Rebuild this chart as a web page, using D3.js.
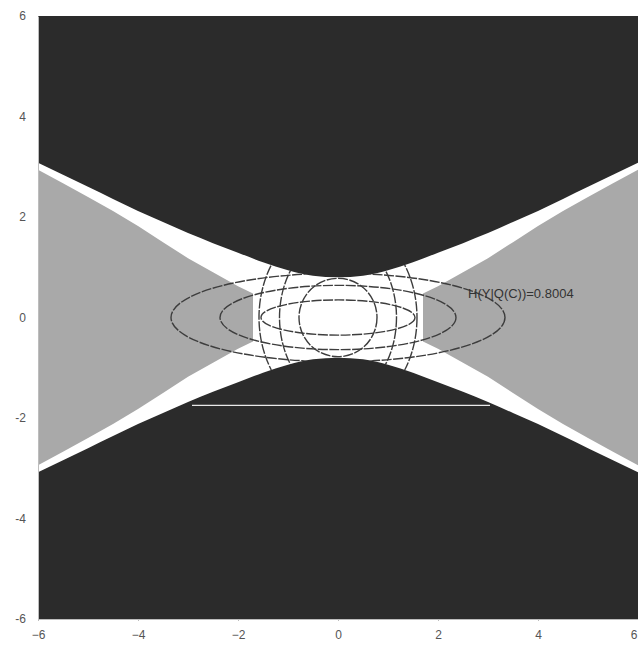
<!DOCTYPE html>
<html>
<head>
<meta charset="utf-8">
<script src="https://cdn.jsdelivr.net/npm/d3@7"></script>
<style>
body { margin: 0; background: #fff; }
svg { display: block; }
</style>
</head>
<body>
<div id="chart"></div>
<script>
// axis ticks
var xTicks = [-6, -4, -2, 0, 2, 4, 6];
var yTicks = [-6, -4, -2, 0, 2, 4, 6];

// edge of the dark (top / bottom) regions, |y| for x >= 0, mirrored
var darkEdgeX = [0, 0.5, 1, 1.5, 2, 2.5, 3, 3.5, 4, 4.5, 5, 5.5, 6];
var darkEdgeY = [0.8, 0.83, 0.94, 1.1, 1.29, 1.48, 1.68, 1.9, 2.12, 2.36, 2.6, 2.84, 3.08];

// edge of the grey (left / right) regions, |y| for |x| >= 1.7
var grayEdgeX = [1.7, 2, 2.5, 3, 3.5, 4, 4.5, 5, 5.5, 6];
var grayEdgeY = [0.48, 0.62, 0.9, 1.18, 1.5, 1.82, 2.12, 2.4, 2.67, 2.94];

// contour ellipses (centre 0,0)
var ellipseRx = [3.34, 2.36, 1.54, 1.58, 1.17, 0.78];
var ellipseRy = [0.88, 0.64, 0.35, 1.95, 1.6, 0.78];

// stray white scan line
var strayLineX = [-2.92, 3.04];
var strayLineY = -1.75;

var label = 'H(Y|Q(C))=0.8004';
var labelPos = [2.6, 0.39];

var cfg = {
    w: 638,
    h: 647,
    left: 38,
    right: 638,
    top: 16,
    bottom: 619,
    dark: '#2b2b2b',
    gray: '#a9a9a9',
    line: '#3d3d3d'
};

var svg = d3.select('#chart')
            .append('svg')
            .attr('width', cfg.w)
            .attr('height', cfg.h);

var x = d3.scaleLinear().domain([-6, 6]).range([cfg.left, cfg.right]);
var y = d3.scaleLinear().domain([-6, 6]).range([cfg.bottom, cfg.top]);

// mirrored edges
function mirror(xs, ys) {
    var pts = [];
    for (var i = xs.length - 1; i > 0; i--) pts.push([-xs[i], ys[i]]);
    for (var j = 0; j < xs.length; j++) pts.push([xs[j], ys[j]]);
    return pts;
}
var darkPts = mirror(darkEdgeX, darkEdgeY);
var grayRight = grayEdgeX.map(function(d, i) {return [d, grayEdgeY[i]];});
var grayLeft = grayEdgeX.map(function(d, i) {return [-d, grayEdgeY[i]];});

var band = d3.area()
             .x(function(d) {return x(d[0]);})
             .y0(function(d) {return y(-d[1]);})
             .y1(function(d) {return y(d[1]);})
             .curve(d3.curveMonotoneX);

var wedge = d3.area()
              .x(function(d) {return x(d[0]);})
              .y0(function(d) {return y(-d[1]);})
              .y1(function(d) {return y(d[1]);});

var defs = svg.append('defs');
defs.append('clipPath').attr('id', 'plotClip')
    .append('rect')
    .attr('x', cfg.left).attr('y', cfg.top)
    .attr('width', cfg.right - cfg.left).attr('height', cfg.bottom - cfg.top);
defs.append('clipPath').attr('id', 'bandClip')
    .append('path')
    .attr('d', band(darkPts));

var g = svg.append('g').attr('clip-path', 'url(#plotClip)');

//Dark background
g.append('rect')
 .attr('x', cfg.left).attr('y', cfg.top)
 .attr('width', cfg.right - cfg.left).attr('height', cfg.bottom - cfg.top)
 .style('fill', cfg.dark);

//White band
g.append('path')
 .attr('d', band(darkPts))
 .style('fill', '#fff');

//Grey wedges
g.selectAll('.wedge')
 .data([grayLeft, grayRight])
 .enter()
 .append('path')
 .attr('class', 'wedge')
 .attr('d', wedge)
 .style('fill', cfg.gray);

//Stray white line
g.append('line')
 .attr('x1', x(strayLineX[0])).attr('x2', x(strayLineX[1]))
 .attr('y1', y(strayLineY)).attr('y2', y(strayLineY))
 .style('stroke', '#e8e8e8')
 .style('stroke-width', '1.2px');

//Ellipses
g.append('g')
 .attr('clip-path', 'url(#bandClip)')
 .selectAll('ellipse')
 .data(ellipseRx)
 .enter()
 .append('ellipse')
 .attr('cx', x(0))
 .attr('cy', y(0))
 .attr('rx', function(d) {return x(d) - x(0);})
 .attr('ry', function(d, i) {return y(0) - y(ellipseRy[i]);})
 .style('fill', 'none')
 .style('stroke', cfg.line)
 .style('stroke-width', '1.4px')
 .style('stroke-dasharray', '10,1.5');

//Label
g.append('text')
 .attr('x', x(labelPos[0]))
 .attr('y', y(labelPos[1]))
 .style('font-family', 'Liberation Sans, Arial, sans-serif')
 .style('font-size', '13px')
 .style('fill', '#333')
 .text(label);

//Axes
var xAxis = svg.append('g')
               .attr('transform', 'translate(0,' + cfg.bottom + ')')
               .call(d3.axisBottom(x).tickValues(xTicks).tickSize(2).tickPadding(9)
                       .tickFormat(function(d) {return d < 0 ? '\u2212' + (-d) : d;}));
var yAxis = svg.append('g')
               .attr('transform', 'translate(' + cfg.left + ',0)')
               .call(d3.axisLeft(y).tickValues(yTicks).tickSize(0).tickPadding(12)
                       .tickFormat(function(d) {return d < 0 ? '-' + (-d) : d;}));

// last x label sits against the right edge
xAxis.selectAll('.tick text')
     .filter(function(d) {return d === xTicks[xTicks.length - 1];})
     .attr('text-anchor', 'end')
     .attr('dx', -1);

[xAxis, yAxis].forEach(function(a) {
    a.select('.domain').style('stroke', '#bdbdbd');
    a.selectAll('.tick line').style('stroke', '#bdbdbd');
    a.selectAll('text')
     .style('font-family', 'Liberation Sans, Arial, sans-serif')
     .style('font-size', '12px')
     .style('fill', '#555');
});
</script>
</body>
</html>
